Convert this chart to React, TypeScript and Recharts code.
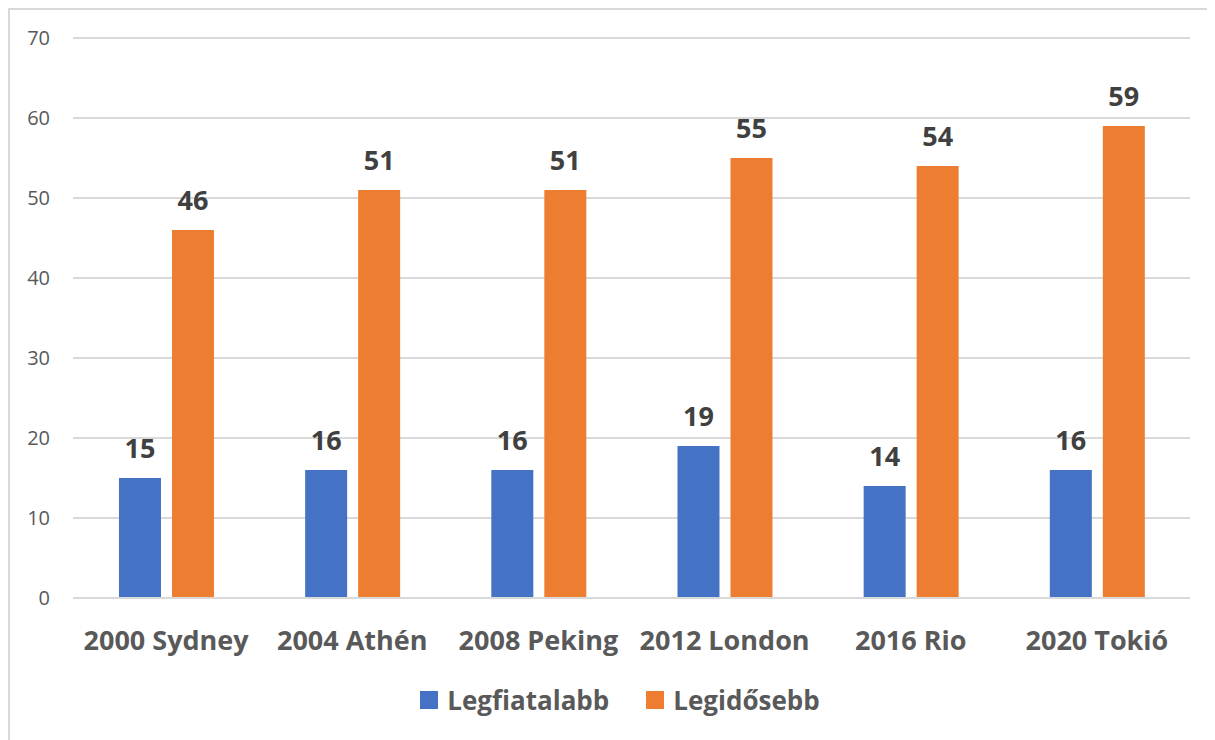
import { BarChart, Bar, XAxis, YAxis, CartesianGrid, Legend, LabelList } from 'recharts';

const games = ['2000 Sydney', '2004 Athén', '2008 Peking', '2012 London', '2016 Rio', '2020 Tokió'];
const youngest = [15, 16, 16, 19, 14, 16];
const oldest = [46, 51, 51, 55, 54, 59];
const yTicks = [0, 10, 20, 30, 40, 50, 60, 70];

const BLUE = '#4472C4';
const ORANGE = '#ED7D31';
const FONT = '"Open Sans", sans-serif';

const data = games.map((g, i) => ({ name: g, Legfiatalabb: youngest[i], Legidősebb: oldest[i] }));

const legendItems = [
  { label: 'Legfiatalabb', color: BLUE },
  { label: 'Legidősebb', color: ORANGE },
];

function ChartLegend() {
  return (
    <div style={{ display: 'flex', justifyContent: 'center', gap: 37, fontFamily: FONT, paddingLeft: 40, paddingTop: 4 }}>
      {legendItems.map((it) => (
        <div key={it.label} style={{ display: 'flex', alignItems: 'center', gap: 9 }}>
          <span style={{ width: 18, height: 18, background: it.color, display: 'inline-block' }} />
          <span style={{ fontSize: 26, fontWeight: 700, color: '#595959' }}>{it.label}</span>
        </div>
      ))}
    </div>
  );
}

export default function App() {
  return (
    <div style={{ width: 1203, height: 740, border: '2px solid #d9d9d9', background: '#fff' }}>
      <BarChart
        width={1203}
        height={728}
        data={data}
        margin={{ top: 28, right: 23, left: 0, bottom: 20 }}
        barCategoryGap="24.7%"
        barGap={11}
      >
        <CartesianGrid vertical={false} stroke="#d9d9d9" strokeWidth={2} />
        <XAxis
          dataKey="name"
          height={80}
          axisLine={{ stroke: '#d9d9d9', strokeWidth: 2 }}
          tickLine={false}
          tickSize={0}
          tickMargin={33}
          interval={0}
          tick={{ fontSize: 27, fontWeight: 700, fill: '#595959', fontFamily: FONT }}
        />
        <YAxis
          width={63}
          domain={[0, 70]}
          ticks={yTicks}
          axisLine={false}
          tickLine={false}
          tickSize={0}
          tickMargin={23}
          tick={{ fontSize: 20, fill: '#595959', fontFamily: FONT }}
        />
        <Legend verticalAlign="bottom" height={40} content={<ChartLegend />} />
        <Bar dataKey="Legfiatalabb" fill={BLUE} isAnimationActive={false}>
          <LabelList dataKey="Legfiatalabb" position="top" offset={20} style={{ fontSize: 27, fontWeight: 700, fill: '#404040', fontFamily: FONT }} />
        </Bar>
        <Bar dataKey="Legidősebb" fill={ORANGE} isAnimationActive={false}>
          <LabelList dataKey="Legidősebb" position="top" offset={20} style={{ fontSize: 27, fontWeight: 700, fill: '#404040', fontFamily: FONT }} />
        </Bar>
      </BarChart>
    </div>
  );
}
